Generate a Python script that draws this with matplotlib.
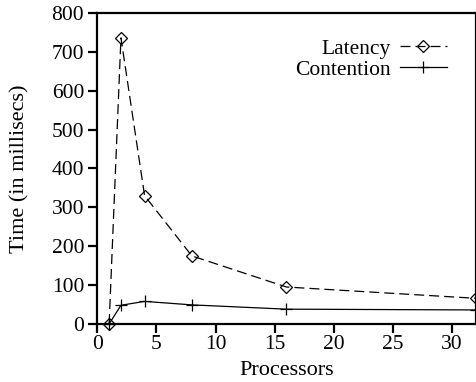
import matplotlib
matplotlib.use('Agg')
import matplotlib.pyplot as plt

procs = [1, 2, 4, 8, 16, 32]
latency = [0, 736, 330, 175, 95, 66]
contention = [0, 48, 58, 49, 38, 36]

plt.rcParams['font.family'] = ['Liberation Serif']
plt.rcParams['font.size'] = 15.5

fig = plt.figure(figsize=(4.77, 3.82), dpi=100)
ax = fig.add_axes([0.204, 0.152, 0.793, 0.814])

ax.plot(procs, latency, color='k', lw=0.9, ls=(0, (8, 4)), marker='D', ms=6.5,
        mfc='none', mec='k', mew=0.9, label='Latency', clip_on=False)
ax.plot(procs, contention, color='k', lw=0.9, marker='+', ms=8, mew=0.9,
        label='Contention', clip_on=False)

ax.set_xlim(0, 32)
ax.set_ylim(0, 800)
ax.set_xticks([0, 5, 10, 15, 20, 25, 30])
ax.set_yticks(range(0, 801, 100))
for s in ax.spines.values():
    s.set_linewidth(1.6)
ax.tick_params(direction='out', width=1.6, length=6.5, labelsize=15.5, pad=3)
ax.tick_params(axis='x', pad=1.5)
ax.set_xlabel('Processors', fontsize=16, labelpad=5)
ax.set_ylabel('Time (in millisecs)', fontsize=16, labelpad=16)

ax.legend(loc='upper right', bbox_to_anchor=(0.947, 0.945), frameon=False,
          markerfirst=False, handlelength=2.2, handletextpad=0.4,
          labelspacing=0.05, fontsize=15.5, borderaxespad=0)

fig.savefig('out.png', dpi=100)
